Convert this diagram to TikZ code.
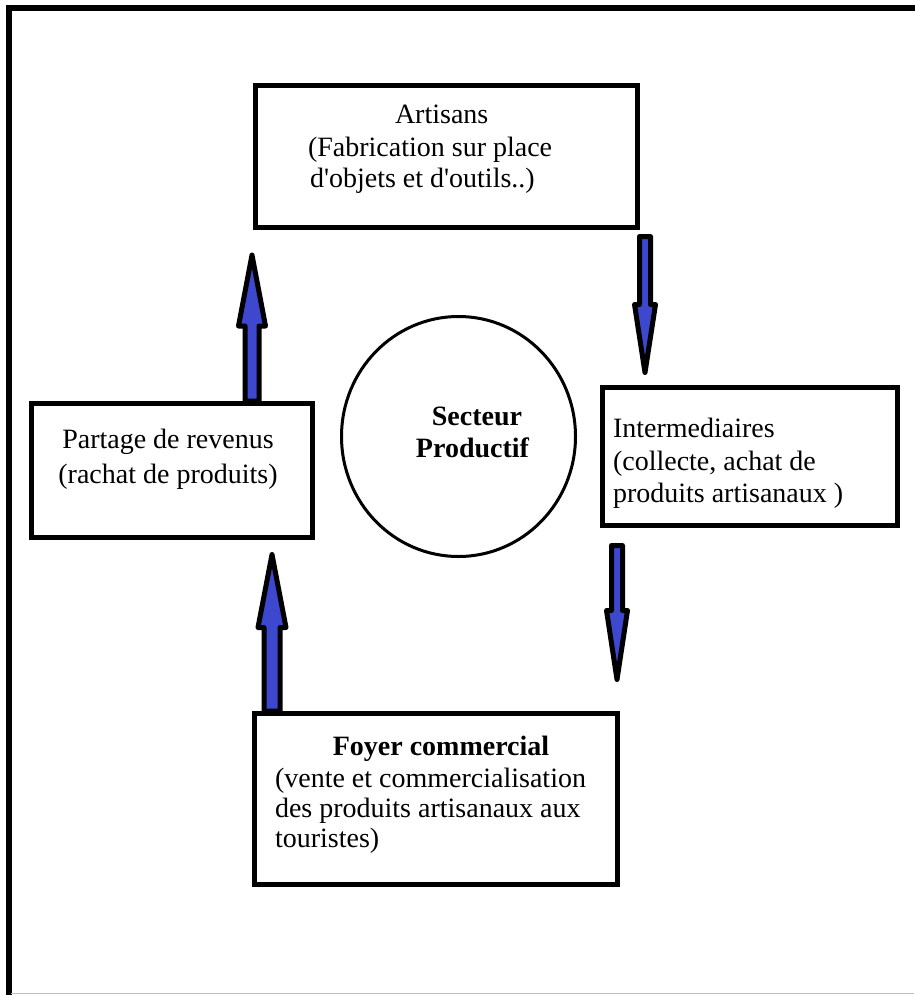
\documentclass[tikz,border=0pt]{standalone}
\usepackage{fontspec}
\setmainfont{Liberation Serif}
\usetikzlibrary{shapes.geometric,calc}
\definecolor{arrowblue}{RGB}{62,72,206}
\tikzset{
  x=1pt,y=-1pt,
  box/.style={draw=black,line width=5pt,rectangle,inner sep=0pt,outer sep=0pt},
  circ/.style={draw=black,line width=3pt,ellipse,inner sep=0pt,outer sep=0pt},
  txt/.style={inner sep=0pt,outer sep=0pt,font=\fontsize{28}{31.5}\selectfont},
  btxt/.style={txt,font=\fontsize{28}{31.5}\selectfont\bfseries},
  fatarrow/.style={draw=black,fill=arrowblue,line width=5pt,line join=round},
}
% #1 start coord, #2 tip coord, #3 shaft half width, #4 head half width, #5 head base offset from tip (px, screen-down positive)
\newcommand\myVArrow[5]{%
  \draw[fatarrow] ($(#1)+(-#3,0)$) -- ($(#2)+(-#3,#5)$) -- ($(#2)+(-#4,#5)$) -- (#2)
    -- ($(#2)+(#4,#5)$) -- ($(#2)+(#3,#5)$) -- ($(#1)+(#3,0)$) -- cycle;}
\begin{document}
\begin{tikzpicture}
\useasboundingbox (0,0) rectangle (914,995);
\fill[white] (0,0) rectangle (914,995);
% outer frame
\draw[line width=6pt] (8.5,1000) -- (8.5,8.5) -- (920,8.5);
\draw[line width=1.5pt,black!25] (11,993.5) -- (914,993.5);

% boxes
\node[box,minimum width=382pt,minimum height=142pt] (art) at (446.5,156.5) {};
\node[box,minimum width=281pt,minimum height=134pt] (part) at (172,470.5) {};
\node[box,minimum width=295pt,minimum height=138pt] (inter) at (750,456.5) {};
\node[box,minimum width=363pt,minimum height=171pt] (foyer) at (436,799) {};
\node[circ,minimum width=234pt,minimum height=240pt] (sect) at (458.5,436.5) {};

% texts
\node[txt,anchor=base west] (art1) at (395,124) {Artisans};
\node[txt,anchor=base west] (art2) at (308,157) {(Fabrication sur place};
\node[txt,anchor=base west] (art3) at (310,187) {d\textquotesingle objets et d\textquotesingle outils..)};

\node[txt,anchor=base] (part1) at (168,448) {Partage de revenus};
\node[txt,anchor=base] (part2) at (168,483) {(rachat de produits)};

\node[txt,anchor=base west] (int1) at (613,437) {Intermediaires};
\node[txt,anchor=base west] (int2) at (613,470) {(collecte, achat de};
\node[txt,anchor=base west] (int3) at (613,502) {produits artisanaux )};

\node[btxt,anchor=base] (foy1) at (441,755) {Foyer commercial};
\node[txt,anchor=base west] (foy2) at (275,787) {(vente et commercialisation};
\node[txt,anchor=base west] (foy3) at (275,817) {des produits artisanaux aux};
\node[txt,anchor=base west] (foy4) at (275,847) {touristes)};

\node[btxt,anchor=base] (sec1) at (477,425) {Secteur};
\node[btxt,anchor=base] (sec2) at (472.5,457) {Productif};

% arrow end points
\coordinate (aS) at (252,401);
\coordinate (aT) at (252,255);
\coordinate (bS) at (645,236.5);
\coordinate (bT) at (645,372.5);
\coordinate (cS) at (617,545.5);
\coordinate (cT) at (617,679.5);
\coordinate (dS) at (272,711);
\coordinate (dT) at (272,554.5);

\myVArrow{aS}{aT}{7}{13.5}{71}
\myVArrow{bS}{bT}{5.5}{10.5}{-68}
\myVArrow{cS}{cT}{5.5}{10.5}{-69}
\myVArrow{dS}{dT}{8}{14}{73}

% redraw box borders over arrow ends
\draw[line width=5pt] (part.north west) -- (part.north east);
\draw[line width=5pt] (foyer.north west) -- (foyer.north east);
\end{tikzpicture}
\end{document}
